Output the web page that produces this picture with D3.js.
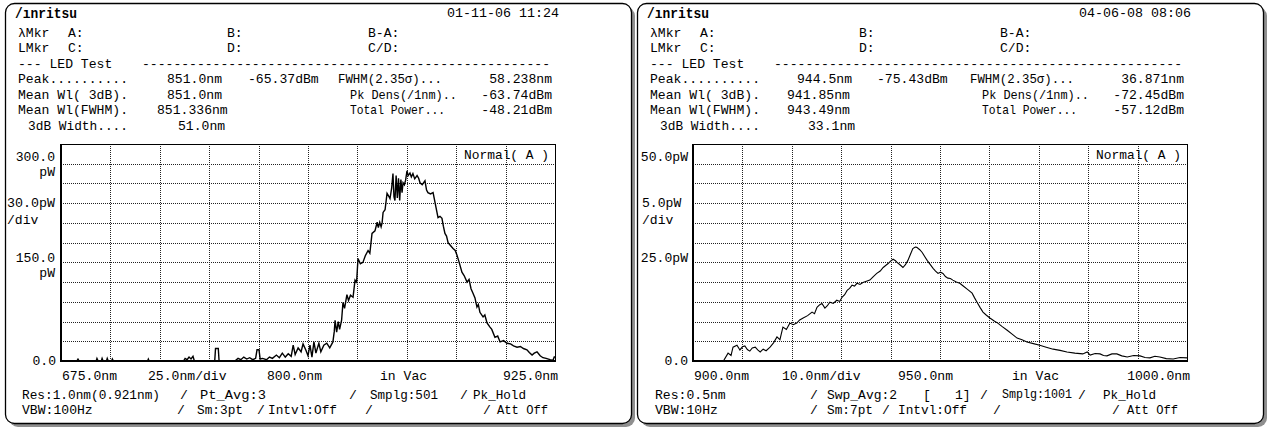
<!DOCTYPE html>
<html>
<head>
<meta charset="utf-8">
<script src="https://cdn.jsdelivr.net/npm/d3@7/dist/d3.min.js"></script>
<style>
html, body { margin: 0; padding: 0; background: #fff; }
svg text { font-family: "Liberation Mono", "DejaVu Sans Mono", monospace; font-size: 13.1px; fill: #000; }
</style>
</head>
<body>
<svg id="chart" width="1267" height="427"></svg>
<script>
"use strict";

const leftXDomain = [675, 925];
const leftYDomain = [0, 330];
const leftTrace = [
   [675, 0], [683, 0], [683.6, 3], [684.2, 0], [692.8, 0], [693.2, 4], [693.8, 0], [695.4, 0], [695.8, 4], [696.3, 0],
   [698, 0], [698.4, 4], [698.9, 0], [700.6, 0], [701, 3], [701.5, 0], [718.8, 0], [719.2, 3], [719.6, 0], [737, 0],
   [737.8, 4], [738.8, 2], [739.8, 6], [740.8, 3], [741.8, 7], [742.5, 0], [752.8, 0], [753.2, 19], [754.6, 19], [755, 0],
   [763, 0], [764.6, 4], [766, 2], [767.5, 6], [769, 3], [770.5, 5], [772, 2], [773.5, 4], [774.2, 17], [775.2, 17],
   [775.8, 3], [777, 4], [779, 2], [780.5, 6], [782, 4], [784, 9], [785.5, 5], [787, 12], [788.5, 6], [790, 11],
   [791.5, 7], [792.5, 24], [793.5, 10], [795, 20], [796.5, 14], [797.5, 26], [799, 16], [800, 8], [801, 24], [802, 6],
   [803, 29], [804, 12], [805.5, 27], [806.5, 14], [808, 24], [809.5, 27], [811, 20], [812.6, 29], [813.3, 45], [813.7, 62],
   [814.5, 44], [815.3, 60], [816, 48], [817, 62], [817.7, 89], [818.5, 80], [819.7, 101], [820.5, 92], [821.5, 100], [822.8, 97],
   [823.8, 123], [824.6, 120], [825.3, 156], [826.5, 148], [827.8, 150], [829, 160], [830.4, 168], [831.3, 164], [832.4, 194], [833.9, 198],
   [835, 211], [835.6, 203], [836.3, 211], [837, 204], [837.5, 210], [838, 226], [839, 230], [840, 255], [841, 250], [841.5, 247],
   [842.3, 262], [843, 285], [843.5, 250], [844, 244], [844.6, 282], [845.2, 248], [845.8, 278], [846.4, 244], [847, 276], [847.6, 256],
   [848.1, 271], [848.8, 268], [849.4, 275], [850.1, 289], [850.7, 282], [851.6, 286], [852.3, 280], [853.1, 285], [854, 277], [855.2, 282],
   [856, 278], [856.7, 271], [857.8, 268], [859.2, 274], [860, 260], [860.7, 256], [862, 254], [863.3, 256], [864.3, 241], [865.8, 218],
   [866.8, 220], [867.8, 217], [868.5, 205], [869.3, 194], [870.1, 190], [870.9, 180], [872, 176], [873.4, 171], [874.5, 168], [875.4, 161],
   [876.5, 150], [877.9, 135], [879, 130], [880.5, 120], [881.5, 124], [882.5, 110], [883.5, 103], [884.5, 96], [885.5, 82], [886.2, 86],
   [887, 74], [888.6, 67], [889.5, 70], [890.6, 58], [892, 52], [893, 48], [894.6, 36], [896, 38], [897.2, 29], [899, 31],
   [900.7, 27], [902.5, 26], [904, 23], [905.8, 21], [907.5, 22], [909, 19], [910.8, 17], [912, 13], [913.4, 9], [914.5, 12],
   [915.9, 14], [917.5, 8], [918.9, 5], [920.5, 4], [922.5, 2], [924, 1], [924.6, 6], [925, 6]
];

const rightXDomain = [900, 1000];
const rightYDomain = [0, 55];
const rightTrace = [
   [900, 0], [906, 0], [906.3, 0.3], [907.1, 2.0], [907.7, 1.4], [908.1, 3.5], [908.9, 4.0], [909.5, 2.8], [910, 3.6], [910.5, 3.8],
   [911, 2.9], [911.5, 2.5], [912, 3.3], [912.6, 3.5], [913.1, 2.8], [913.6, 2.3], [914.2, 3.0], [914.8, 2.6], [915.6, 3.5], [916.3, 4.6],
   [917, 6.1], [917.6, 5.4], [918.2, 8.6], [918.9, 8.0], [919.6, 9.6], [920.3, 9.2], [921, 9.6], [921.6, 10.4], [922.3, 10.9], [923.2, 11.5],
   [924.1, 12.4], [924.6, 12.0], [925.1, 13.6], [925.6, 14.2], [926.1, 14.6], [926.7, 13.4], [927.2, 14.0], [927.7, 14.9], [928.4, 14.6], [929.1, 15.4],
   [929.7, 15.1], [930.2, 16.2], [930.7, 16.8], [931.2, 17.9], [931.7, 18.4], [932.2, 19.2], [932.7, 19.0], [933.2, 19.7], [933.8, 19.4], [934.4, 19.9],
   [935.1, 20.2], [935.8, 20.5], [936.5, 21.4], [937.2, 22.2], [937.9, 22.8], [938.5, 23.7], [939, 24.2], [939.5, 24.7], [940, 25.3], [940.5, 25.8],
   [941, 25.4], [941.3, 25.0], [941.9, 24.4], [942.5, 23.7], [943, 24.4], [943.5, 25.5], [944, 27.0], [944.5, 28.5], [945, 28.9], [945.3, 28.8],
   [945.9, 28.2], [946.4, 27.5], [946.9, 26.5], [947.4, 25.5], [948, 24.5], [948.6, 23.5], [949.1, 22.8], [949.6, 22.2], [950.1, 22.5], [950.6, 22.2],
   [951.1, 21.4], [951.6, 21.0], [952.1, 20.9], [952.6, 20.5], [953.3, 20.0], [954, 19.7], [954.7, 19.0], [955.5, 18.2], [956.5, 17.2], [957, 16.0],
   [957.5, 14.9], [958.1, 13.6], [958.7, 12.4], [959.4, 11.6], [960.1, 10.9], [960.9, 10.2], [961.7, 9.6], [962.6, 8.7], [963.6, 7.8], [964.6, 6.8],
   [965.6, 5.8], [966.6, 5.4], [967.6, 4.8], [968.9, 4.4], [970.2, 4.0], [971.5, 3.5], [972.9, 3.0], [974.3, 2.7], [975.7, 2.3], [977.3, 2.0],
   [978.9, 1.8], [979.8, 2.3], [980.4, 1.5], [981.4, 1.9], [982.4, 1.8], [983.1, 1.4], [983.8, 1.3], [984.8, 1.8], [985.8, 1.8], [986.8, 1.3],
   [987.9, 1.0], [989.2, 1.4], [990.5, 1.3], [991.5, 0.9], [992.5, 0.8], [993.5, 1.2], [994.5, 1.0], [995.8, 0.6], [997.2, 0.5], [998.6, 0.9],
   [1000, 0.8]
];

// screen texts
const leftDate = "01-11-06 11:24";
const rightDate = "04-06-08 08:06";
const leftResults = ["851.0nm", "-65.37dBm", "58.238nm", "851.0nm", "-63.74dBm", "851.336nm", "-48.21dBm", "51.0nm"];
const rightResults = ["944.5nm", "-75.43dBm", "36.871nm", "941.85nm", "-72.45dBm", "943.49nm", "-57.12dBm", "33.1nm"];
const leftYLabels = ["300.0", "30.0pW", "150.0", "0.0"];
const rightYLabels = ["50.0pW", "5.0pW", "25.0pW", "0.0"];
const leftXLabels = ["675.0nm", "25.0nm/div", "800.0nm", "in Vac", "925.0nm"];
const rightXLabels = ["900.0nm", "10.0nm/div", "950.0nm", "in Vac", "1000.0nm"];

const svg = d3.select("#chart");

// plot box inside a panel (panel local coords)
const box = { left: 61, right: 555, top: 144, bottom: 361 };
const rowY = [13, 33, 48.5, 64, 79.5, 95, 110.5, 126];

function txt(g, x, y, s, anchor, width) {
   const t = g.append("text")
      .attr("x", x).attr("y", y)
      .attr("dominant-baseline", "central")
      .attr("text-anchor", anchor || "start")
      .text(s);
   if (width) t.attr("textLength", width).attr("lengthAdjust", "spacingAndGlyphs");
   return t;
}

function drawPanel(offset, cfg) {
   const g = svg.append("g").attr("transform", `translate(${offset},0)`);

   // dithered shadow + frame
   g.append("rect").attr("x", 9).attr("y", 7).attr("width", 626).attr("height", 420)
      .attr("rx", 9).attr("fill", "#8f8f8f");
   g.append("rect").attr("x", 5.5).attr("y", 3.5).attr("width", 626).attr("height", 420)
      .attr("rx", 9).attr("fill", "#fff").attr("stroke", "#000").attr("stroke-width", 1.3);

   // header
   txt(g, 15, rowY[0] + 1, "/\u0131nritsu", "start", 62)
      .style("font-weight", "bold").style("font-size", "15px");
   txt(g, 447, rowY[0], cfg.date, "start", 112);
   txt(g, 18, rowY[1], "\u03bbMkr");
   txt(g, 68, rowY[1], "A:");
   txt(g, 227, rowY[1], "B:");
   txt(g, 368, rowY[1], "B-A:");
   txt(g, 18, rowY[2], "LMkr");
   txt(g, 68, rowY[2], "C:");
   txt(g, 227, rowY[2], "D:");
   txt(g, 368, rowY[2], "C/D:");
   txt(g, 18, rowY[3], "--- LED Test");
   txt(g, 142, rowY[3], "-".repeat(52), "start", 408);
   const r = cfg.results;
   txt(g, 18, rowY[4], "Peak..........", "start", 110);
   txt(g, cfg.valX[0], rowY[4], r[0]);
   txt(g, cfg.valX[1], rowY[4], r[1]);
   txt(g, 338, rowY[4], "FWHM(2.35\u03c3)...", "start", 104);
   txt(g, 552, rowY[4], r[2], "end");
   txt(g, 18, rowY[5], "Mean Wl( 3dB).", "start", 110);
   txt(g, cfg.valX[2], rowY[5], r[3]);
   txt(g, 350, rowY[5], "Pk Dens(/1nm)..", "start", 107);
   txt(g, 552, rowY[5], r[4], "end");
   txt(g, 18, rowY[6], "Mean Wl(FWHM).", "start", 110);
   txt(g, cfg.valX[3], rowY[6], r[5]);
   txt(g, 350, rowY[6], "Total Power...", "start", 95);
   txt(g, 552, rowY[6], r[6], "end");
   txt(g, 28, rowY[7], "3dB Width....", "start", 100);
   txt(g, cfg.valX[4], rowY[7], r[7]);

   // scales
   const x = d3.scaleLinear().domain(cfg.xDomain).range([box.left, box.right]);
   const y = d3.scaleLinear().domain(cfg.yDomain).range([box.bottom, box.top]);
   const xStep = (cfg.xDomain[1] - cfg.xDomain[0]) / 10;
   const yStep = (cfg.yDomain[1] - cfg.yDomain[0]) / 11;

   // dotted grid
   const grid = g.append("g").attr("stroke", "#222").attr("stroke-width", 1)
      .attr("stroke-dasharray", "1,1").attr("shape-rendering", "crispEdges");
   d3.range(1, 10).forEach(i => {
      const px = Math.round(x(cfg.xDomain[0] + i * xStep)) + 0.5;
      grid.append("line").attr("x1", px).attr("x2", px).attr("y1", box.top).attr("y2", box.bottom);
   });
   d3.range(1, 11).forEach(i => {
      const py = Math.round(y(cfg.yDomain[0] + i * yStep)) + 0.5;
      grid.append("line").attr("x1", box.left).attr("x2", box.right).attr("y1", py).attr("y2", py);
   });

   // frame of the plot
   const fr = g.append("g").attr("stroke", "#000").attr("shape-rendering", "crispEdges");
   fr.append("line").attr("x1", box.left).attr("x2", box.right).attr("y1", box.top + 0.5).attr("y2", box.top + 0.5);
   fr.append("line").attr("x1", box.right + 0.5).attr("x2", box.right + 0.5).attr("y1", box.top).attr("y2", box.bottom);
   fr.append("line").attr("x1", box.left).attr("x2", box.left).attr("y1", box.top).attr("y2", box.bottom + 1)
      .attr("stroke-width", 2);
   fr.append("line").attr("x1", box.left).attr("x2", box.right + 1).attr("y1", box.bottom).attr("y2", box.bottom)
      .attr("stroke-width", 2);

   // trace
   const line = d3.line().x(d => x(d[0])).y(d => y(d[1]));
   g.append("path").datum(cfg.trace)
      .attr("d", line)
      .attr("fill", "none").attr("stroke", "#000").attr("stroke-width", cfg.lineWidth)
      .attr("stroke-linejoin", "miter");

   txt(g, 464, 155, "Normal( A )", "start", 85);

   // y labels
   const yl = cfg.yLabels;
   if (cfg.yStyle === "left") {
      txt(g, 55, 157, yl[0], "end");
      txt(g, 55, 172, "pW", "end");
      txt(g, 7, 203, yl[1], "start", 48);
      txt(g, 7, 220, "/div");
      txt(g, 55, 258, yl[2], "end");
      txt(g, 55, 273, "pW", "end");
   } else {
      txt(g, 56, 157, yl[0], "end");
      txt(g, 10, 203, yl[1]);
      txt(g, 10, 220, "/div");
      txt(g, 56, 258, yl[2], "end");
   }
   txt(g, 56, 361, yl[3], "end");

   // x labels
   const xl = cfg.xLabels;
   txt(g, 62, 376, xl[0]);
   txt(g, cfg.xLabX[0], 376, xl[1]);
   txt(g, cfg.xLabX[1], 376, xl[2]);
   txt(g, 380, 376, xl[3]);
   txt(g, 558, 376, xl[4], "end");

   // condition lines
   cfg.footer.forEach(f => {
      const t = txt(g, f[0], f[1], f[2], "start", f[3]);
      if (f[4]) t.style("font-size", f[4] + "px");
   });
}

drawPanel(0, {
   date: leftDate,
   results: leftResults,
   valX: [167, 248, 167, 157, 178],
   xDomain: leftXDomain, yDomain: leftYDomain, trace: leftTrace, lineWidth: 1.4,
   yLabels: leftYLabels, yStyle: "left",
   xLabels: leftXLabels, xLabX: [148, 267],
   footer: [
      [22, 395, "Res:1.0nm(0.921nm)", 138], [180, 395, "/"], [200, 395, "Pt_Avg:3", 66],
      [349, 395, "/"], [370, 395, "Smplg:501", 68], [460, 395, "/"], [473, 395, "Pk_Hold", 53],
      [22, 410, "VBW:100Hz"], [177, 410, "/"], [197, 410, "Sm:3pt", 46], [257, 410, "/"],
      [268, 410, "Intvl:Off", 69], [365, 410, "/"], [483, 410, "/"], [497, 410, "Att Off", 51]
   ]
});

drawPanel(632, {
   date: rightDate,
   results: rightResults,
   valX: [165, 245, 155, 155, 176],
   xDomain: rightXDomain, yDomain: rightYDomain, trace: rightTrace, lineWidth: 1.1,
   yLabels: rightYLabels, yStyle: "right",
   xLabels: rightXLabels, xLabX: [150, 266],
   footer: [
      [23, 395, "Res:0.5nm"], [178, 395, "/"], [195, 395, "Swp_Avg:2", 70], [291, 395, "["],
      [323, 395, "1]"], [348, 395, "/"], [370, 395, "Smplg:1001", 70, 12], [446, 395, "/"], [471, 395, "Pk_Hold", 53],
      [23, 410, "VBW:10Hz"], [178, 410, "/"], [195, 410, "Sm:7pt", 46], [250, 410, "/"],
      [266, 410, "Intvl:Off", 69], [361, 410, "/"], [480, 410, "/"], [495, 410, "Att Off", 51]
   ]
});
</script>
</body>
</html>
